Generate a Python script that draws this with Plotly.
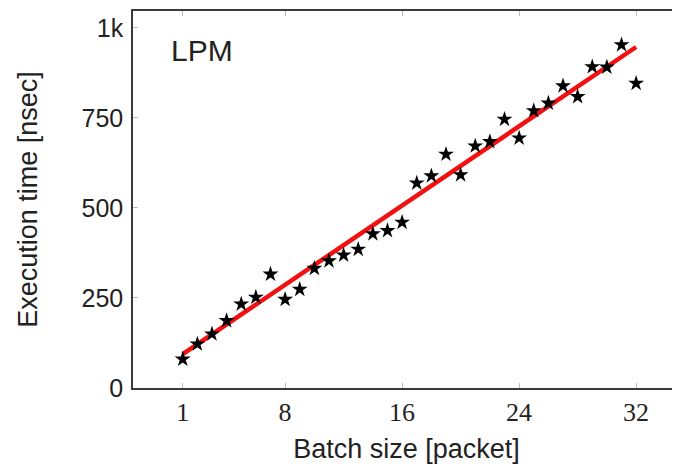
import plotly.graph_objects as go

# Data
batch_size = list(range(1, 33))
exec_time = [80, 122, 150, 187, 233, 252, 316, 246, 274, 332, 353, 369, 385, 428, 437, 460,
             569, 589, 649, 592, 672, 684, 746, 694, 770, 791, 839, 809, 892, 891, 953, 846]
fit_x = [1, 32]
fit_y = [94, 947]

x_tickvals = [1, 8, 16, 24, 32]
x_ticktext = ["1", "8", "16", "24", "32"]
y_tickvals = [0, 250, 500, 750, 1000]
y_ticktext = ["0", "250", "500", "750", "1k"]

fig = go.Figure()
fig.add_trace(go.Scatter(x=fit_x, y=fit_y, mode="lines",
                         line=dict(color="#f21010", width=4.5), showlegend=False))
fig.add_trace(go.Scatter(x=batch_size, y=exec_time, mode="markers",
                         marker=dict(symbol="star", size=12, color="black",
                                     line=dict(width=0)), showlegend=False))

fig.add_annotation(x=0.066, y=0.945, xref="paper", yref="paper", text="LPM",
                   showarrow=False, xanchor="left", yanchor="top",
                   font=dict(family="Liberation Sans", size=30, color="#222"))

fig.update_layout(
    width=672, height=467,
    margin=dict(l=125, r=0, t=3, b=87),
    paper_bgcolor="white", plot_bgcolor="white",
    xaxis=dict(range=[-2.4, 35.0], tickvals=x_tickvals, ticktext=x_ticktext,
               showgrid=False, zeroline=False,
               showline=True, linecolor="#3a3a3a", linewidth=1.5, mirror="allticks",
               ticks="inside", ticklen=5, tickcolor="#bbb", tickwidth=1,
               tickfont=dict(family="Liberation Serif", size=26, color="#222"),
               ticklabelstandoff=0,
               title=dict(text="Batch size [packet]", standoff=13,
                          font=dict(family="Liberation Sans", size=27, color="#222"))),
    yaxis=dict(range=[0, 1047], tickvals=y_tickvals, ticktext=y_ticktext,
               showgrid=False, zeroline=False,
               showline=True, linecolor="#3a3a3a", linewidth=1.5, mirror=False,
               ticks="inside", ticklen=5, tickcolor="#bbb", tickwidth=1,
               tickfont=dict(family="Liberation Sans", size=25, color="#222"),
               ticklabelstandoff=3,
               title=dict(text="Execution time [nsec]", standoff=36,
                          font=dict(family="Liberation Sans", size=27, color="#222"))),
)

fig.write_html("out.html")
